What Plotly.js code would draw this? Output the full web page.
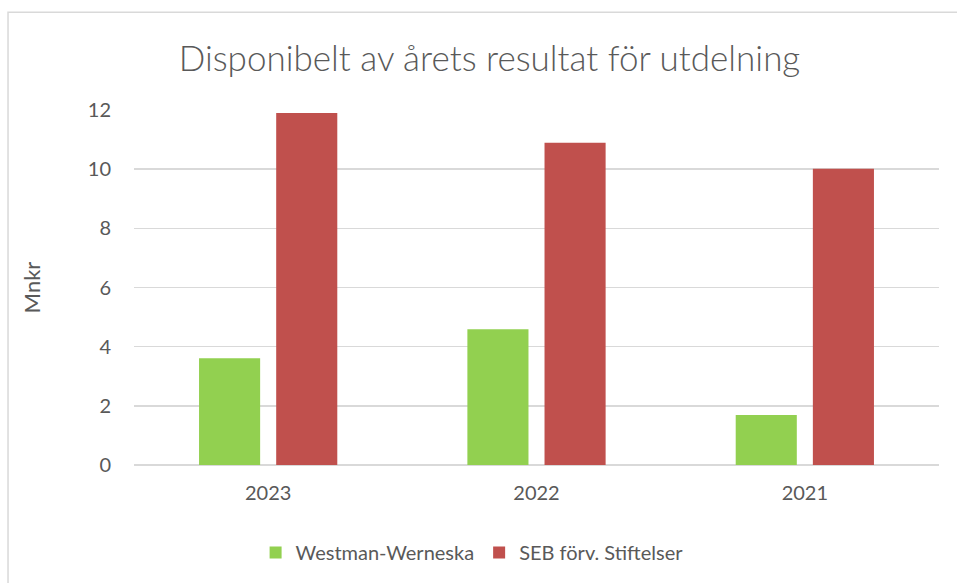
<!DOCTYPE html>
<html>
<head>
<meta charset="utf-8">
<script src="https://cdn.plot.ly/plotly-3.0.1.min.js"></script>
<style>html,body{margin:0;padding:0;background:#fff;}#chart{width:957px;height:583px;}</style>
</head>
<body>
<div id="chart"></div>
<script>
var categories = ["2023", "2022", "2021"];
var seriesNames = ["Westman-Werneska", "SEB förv. Stiftelser"];
var westman = [3.61, 4.59, 1.69];
var seb = [11.9, 10.89, 10.01];
var yTicks = [0, 2, 4, 6, 8, 10, 12];

var fontFam = "Lato, 'Open Sans', sans-serif";
var txtColor = "#595959";

var traces = [
  {type: "bar", name: seriesNames[0], x: categories, y: westman, marker: {color: "#92d050"}},
  {type: "bar", name: seriesNames[1], x: categories, y: seb, marker: {color: "#c0504d"}}
];

var layout = {
  width: 957, height: 583,
  margin: {l: 134, r: 18, t: 110, b: 117},
  paper_bgcolor: "#ffffff", plot_bgcolor: "#ffffff",
  font: {family: fontFam, color: txtColor, size: 20},
  title: {text: "Disponibelt av årets resultat för utdelning", font: {family: fontFam, size: 35, color: txtColor, weight: 300},
          x: 0.5115, xref: "container", xanchor: "center", y: 1 - 59/583, yref: "container", yanchor: "middle"},
  barmode: "group", bargap: 0.425, bargroupgap: 0.208,
  xaxis: {type: "category", tickfont: {size: 20, color: txtColor}, showgrid: false, zeroline: false,
          showline: false, ticks: "", ticklabelstandoff: 14},
  yaxis: {range: [0, 12], tickvals: yTicks, ticktext: yTicks.map(String), showgrid: true, gridcolor: "#d9d9d9", gridwidth: 1.5,
          zeroline: true, zerolinecolor: "#d9d9d9", zerolinewidth: 2, showline: false, ticks: "",
          tickfont: {size: 20, color: txtColor}, ticklabelstandoff: 22,
          title: {text: "Mnkr", font: {size: 22, color: txtColor}, standoff: 41}},
  showlegend: true,
  legend: {orientation: "h", x: 0.42, xanchor: "center", y: -0.243, yanchor: "middle", font: {size: 20, color: txtColor}, traceorder: "normal"},
  shapes: [{type: "rect", xref: "paper", yref: "paper", x0: -0.1565, x1: 1.03, y0: -0.36, y1: (466.3-12)/356.3,
            line: {color: "#d9d9d9", width: 1.5}, fillcolor: "rgba(0,0,0,0)", layer: "below"}]
};

Plotly.newPlot("chart", traces, layout, {displayModeBar: false, staticPlot: true});
</script>
</body>
</html>
